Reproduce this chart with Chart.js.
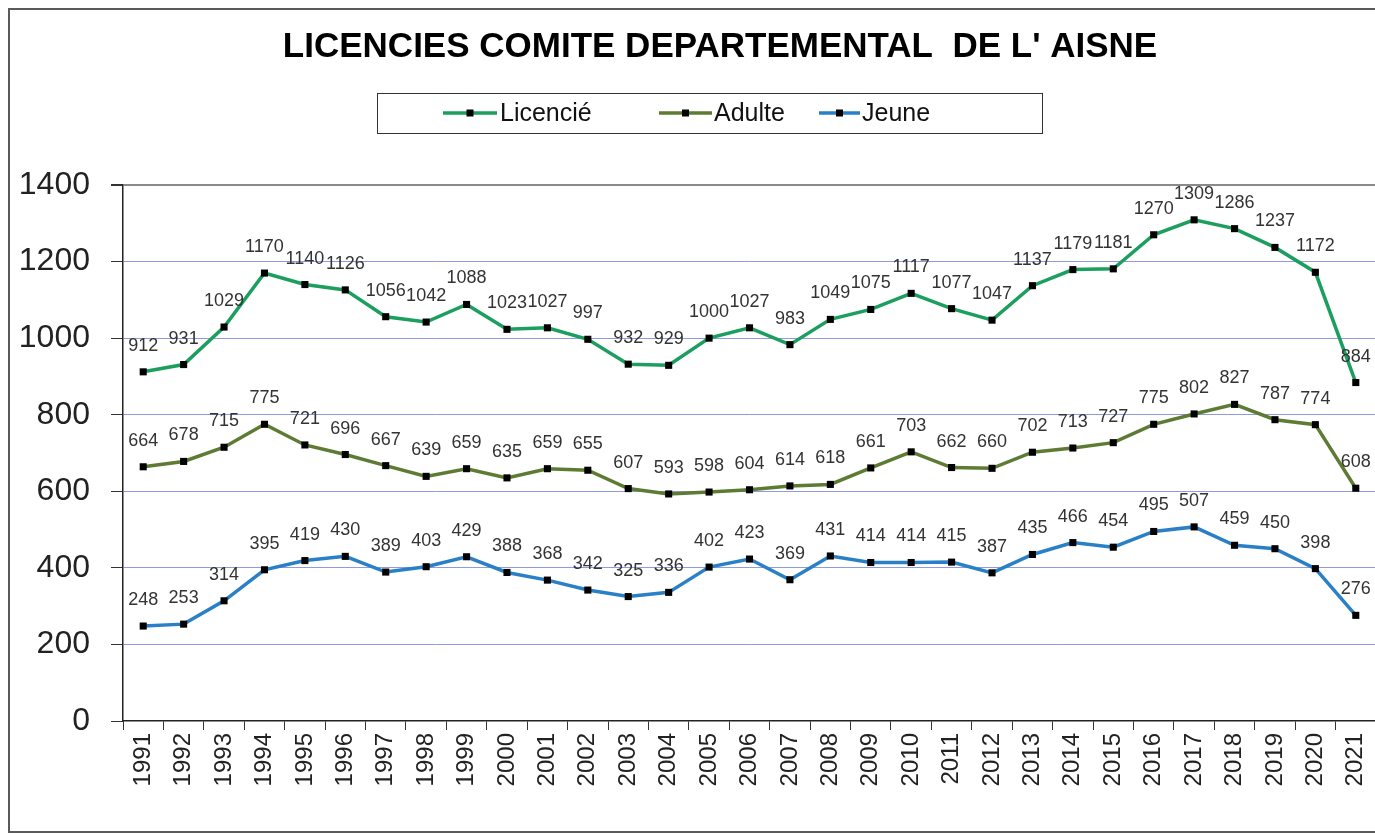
<!DOCTYPE html>
<html>
<head>
<meta charset="utf-8">
<script src="https://cdn.jsdelivr.net/npm/chart.js@4.4.1/dist/chart.umd.min.js"></script>
<style>
  html, body { margin: 0; padding: 0; background: #fff; overflow: hidden; }
  #wrap { position: absolute; left: 0; top: 0; width: 1440px; height: 835px; }
</style>
</head>
<body>
<div id="wrap"><canvas id="c" width="1440" height="835"></canvas></div>
<script>
const years = ['1991','1992','1993','1994','1995','1996','1997','1998','1999','2000','2001','2002','2003','2004','2005','2006','2007','2008','2009','2010','2011','2012','2013','2014','2015','2016','2017','2018','2019','2020','2021'];
const licencie = [912,931,1029,1170,1140,1126,1056,1042,1088,1023,1027,997,932,929,1000,1027,983,1049,1075,1117,1077,1047,1137,1179,1181,1270,1309,1286,1237,1172,884];
const adulte = [664,678,715,775,721,696,667,639,659,635,659,655,607,593,598,604,614,618,661,703,662,660,702,713,727,775,802,827,787,774,608];
const jeune = [248,253,314,395,419,430,389,403,429,388,368,342,325,336,402,423,369,431,414,414,415,387,435,466,454,495,507,459,450,398,276];
const yTicks = [0,200,400,600,800,1000,1200,1400];
const titleText = "LICENCIES COMITE DEPARTEMENTAL  DE L' AISNE";
const seriesNames = ['Licencié','Adulte','Jeune'];
const seriesColors = ['#1B9E5E','#5E7B33','#2A80C6'];

const FONT = "'Liberation Sans', Arial, sans-serif";

const framePlugin = {
  id: 'frame',
  beforeDraw(chart) {
    const ctx = chart.ctx;
    ctx.save();
    ctx.fillStyle = '#fff';
    ctx.fillRect(0, 0, chart.width, chart.height);
    ctx.strokeStyle = '#5a5a5a';
    ctx.lineWidth = 2;
    ctx.strokeRect(9, 9, 1423, 823);
    ctx.restore();
  }
};

const legendPlugin = {
  id: 'customLegend',
  afterDraw(chart) {
    const ctx = chart.ctx;
    ctx.save();
    ctx.strokeStyle = '#333';
    ctx.lineWidth = 1;
    ctx.strokeRect(377.5, 93.5, 665, 40);
    const items = [
      {x0: 443, x1: 497, tx: 500},
      {x0: 659, x1: 712, tx: 714},
      {x0: 819, x1: 860, tx: 862}
    ];
    const cy = 113;
    ctx.font = '25px ' + FONT;
    ctx.textBaseline = 'middle';
    ctx.textAlign = 'left';
    items.forEach((it, i) => {
      ctx.strokeStyle = seriesColors[i];
      ctx.lineWidth = 3.5;
      ctx.beginPath();
      ctx.moveTo(it.x0, cy);
      ctx.lineTo(it.x1, cy);
      ctx.stroke();
      ctx.fillStyle = '#000';
      const mx = (it.x0 + it.x1) / 2;
      ctx.fillRect(mx - 3.5, cy - 3.5, 7, 7);
      ctx.fillStyle = '#111';
      ctx.fillText(seriesNames[i], it.tx, cy + 1);
    });
    ctx.restore();
  }
};

const labelPlugin = {
  id: 'valueLabels',
  afterDatasetsDraw(chart) {
    const ctx = chart.ctx;
    ctx.save();
    ctx.font = '18px ' + FONT;
    ctx.fillStyle = '#333';
    ctx.textAlign = 'center';
    ctx.textBaseline = 'middle';
    chart.data.datasets.forEach((ds, di) => {
      const meta = chart.getDatasetMeta(di);
      meta.data.forEach((pt, i) => {
        ctx.fillText(String(ds.data[i]), pt.x, pt.y - 26);
      });
    });
    ctx.restore();
  }
};

const mkDs = (label, data, color) => ({
  label, data,
  borderColor: color,
  backgroundColor: color,
  borderWidth: 3.5,
  pointStyle: 'rect',
  pointRadius: 5,
  pointHoverRadius: 5,
  pointBackgroundColor: '#000',
  pointBorderColor: '#000',
  pointBorderWidth: 0,
  tension: 0,
  fill: false,
  yAxisID: 'y'
});

new Chart(document.getElementById('c'), {
  type: 'line',
  data: {
    labels: years,
    datasets: [
      mkDs(seriesNames[0], licencie, seriesColors[0]),
      mkDs(seriesNames[1], adulte, seriesColors[1]),
      mkDs(seriesNames[2], jeune, seriesColors[2])
    ]
  },
  options: {
    responsive: false,
    animation: false,
    devicePixelRatio: 1,
    layout: { padding: 0 },
    plugins: {
      legend: { display: false },
      tooltip: { enabled: false },
      title: {
        display: true,
        text: titleText,
        color: '#000',
        font: { family: FONT, size: 35, weight: 'bold', lineHeight: 1.2 },
        padding: { top: 26, bottom: 117 }
      }
    },
    scales: {
      x: {
        type: 'category',
        offset: true,
        grid: {
          offset: true,
          drawOnChartArea: false,
          drawTicks: true,
          tickLength: 9,
          tickColor: '#333',
          lineWidth: 1
        },
        border: { display: true, color: '#222', width: 1.5 },
        ticks: {
          autoSkip: false,
          minRotation: 90,
          maxRotation: 90,
          padding: 3,
          color: '#222',
          font: { family: FONT, size: 24 }
        },
        afterFit(s) { s.height = 114; }
      },
      y: {
        position: 'left',
        min: 0,
        max: 1400,
        afterBuildTicks(s) { s.ticks = yTicks.map(v => ({ value: v })); },
        grid: {
          color: (c) => c.tick && c.tick.value === 1400 ? '#8a8a8a' : (c.tick && c.tick.value === 0 ? 'rgba(0,0,0,0)' : '#8f9bdc'),
          lineWidth: (c) => c.tick && c.tick.value === 1400 ? 2 : 1,
          drawTicks: true,
          tickLength: 12,
          tickColor: '#333'
        },
        border: { display: true, color: '#222', width: 1.5 },
        ticks: {
          padding: 21,
          color: '#222',
          font: { family: FONT, size: 32 },
          callback: (v) => String(v)
        },
        afterFit(s) { s.width = 123; }
      },
      yRight: {
        position: 'right',
        min: 0,
        max: 1400,
        grid: { display: false, drawTicks: false },
        border: { display: false },
        ticks: { display: false },
        afterFit(s) { s.width = 64; }
      }
    }
  },
  plugins: [framePlugin, labelPlugin, legendPlugin]
});
</script>
</body>
</html>
